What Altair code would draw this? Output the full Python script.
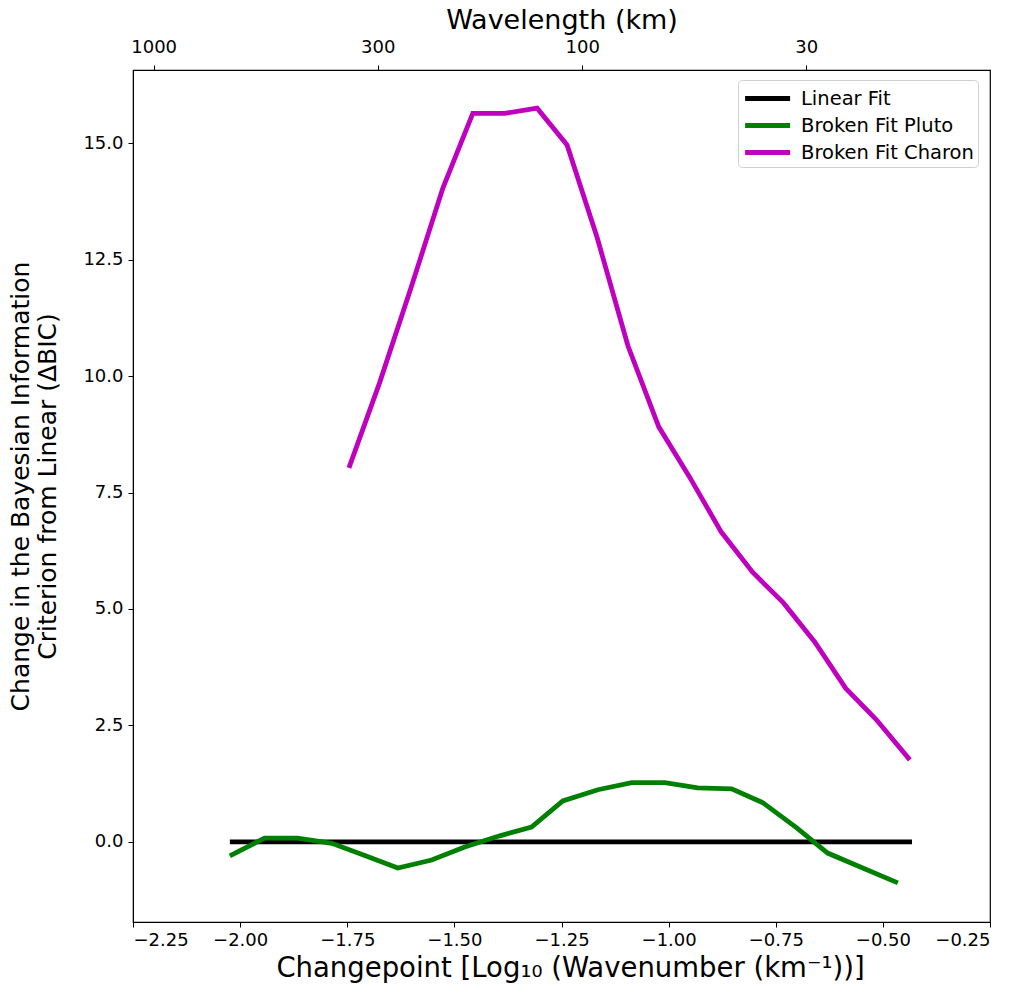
import math
import altair as alt
import pandas as pd

# Broken Fit Charon
charon_x = [-1.746, -1.674, -1.601, -1.527, -1.457, -1.382, -1.307, -1.237, -1.167,
            -1.095, -1.023, -0.951, -0.877, -0.804, -0.732, -0.659, -0.587, -0.515, -0.437]
charon_y = [8.03, 9.87, 11.9, 14.03, 15.64, 15.64, 15.75, 14.96, 12.98,
            10.65, 8.91, 7.83, 6.65, 5.79, 5.13, 4.29, 3.30, 2.62, 1.76]

# Broken Fit Pluto
pluto_x = [-2.024, -1.943, -1.866, -1.786, -1.709, -1.632, -1.553, -1.476, -1.394, -1.320,
           -1.247, -1.165, -1.086, -1.009, -0.932, -0.853, -0.780, -0.701, -0.629, -0.547, -0.465]
pluto_y = [-0.30, 0.08, 0.08, -0.03, -0.29, -0.56, -0.39, -0.11, 0.13, 0.32,
           0.88, 1.12, 1.27, 1.27, 1.16, 1.14, 0.84, 0.30, -0.24, -0.56, -0.88]

# Linear Fit
linear_x = [-2.024, -0.432]
linear_y = [0.0, 0.0]

wavelengths = [1000, 300, 100, 30]
series_names = ["Linear Fit", "Broken Fit Pluto", "Broken Fit Charon"]
series_colors = ["#000000", "#008000", "#bf00bf"]

rows = []
for n, xs, ys in [(series_names[0], linear_x, linear_y),
                  (series_names[1], pluto_x, pluto_y),
                  (series_names[2], charon_x, charon_y)]:
    for i, (a, b) in enumerate(zip(xs, ys)):
        rows.append({"series": n, "x": a, "y": b, "order": i})
df = pd.DataFrame(rows)

top_positions = [math.log10(2 * math.pi / w) for w in wavelengths]
top_df = pd.DataFrame({"x": top_positions, "y": [0.0] * len(top_positions)})

FONT = "DejaVu Sans"
xscale = alt.Scale(domain=[-2.25, -0.25], nice=False, zero=False)
yscale = alt.Scale(domain=[-1.72, 16.57], nice=False, zero=False)

lines = alt.Chart(df).mark_line(strokeWidth=4.8, strokeCap="butt").encode(
    x=alt.X("x:Q", scale=xscale,
            axis=alt.Axis(title="Changepoint [Log₁₀ (Wavenumber (km⁻¹))]",
                          values=[-2.25, -2.0, -1.75, -1.5, -1.25, -1.0, -0.75, -0.5, -0.25],
                          format=".2f", orient="bottom", grid=False,
                          labelFontSize=18, titleFontSize=27.5, titlePadding=5,
                          titleX=437, labelPadding=4)),
    y=alt.Y("y:Q", scale=yscale,
            axis=alt.Axis(title=["Change in the Bayesian Information", "Criterion from Linear (ΔBIC)"],
                          values=[0, 2.5, 5, 7.5, 10, 12.5, 15], format=".1f", grid=False,
                          labelFontSize=18, titleFontSize=25, titlePadding=22,
                          titleY=416, labelPadding=5)),
    color=alt.Color("series:N",
                    scale=alt.Scale(domain=series_names, range=series_colors),
                    legend=alt.Legend(title=None, orient="none", legendX=605, legendY=10,
                                      symbolType="M-0.95,0H2.8", symbolStrokeWidth=4.8,
                                      symbolSize=576, symbolFillColor="transparent",
                                      labelFontSize=19.5, rowPadding=2, labelOffset=30,
                                      labelLimit=400,
                                      strokeColor="#d0d0d0", fillColor="white", padding=4,
                                      cornerRadius=4)),
    order="order:Q",
)

top = alt.Chart(top_df).mark_point(opacity=0).encode(
    x=alt.X("x:Q", scale=xscale,
            axis=alt.Axis(title="Wavelength (km)", orient="top", values=top_positions,
                          labelExpr="format(2*PI/pow(10, datum.value), '.0f')",
                          grid=False, labelFontSize=18, titleFontSize=27,
                          titleY=-42, titleBaseline="alphabetic", labelPadding=9)),
    y=alt.Y("y:Q", scale=yscale),
)

chart = alt.layer(lines, top).resolve_axis(x="independent").properties(
    width=857, height=852,
    autosize=alt.AutoSizeParams(type="none"),
    padding={"left": 133, "top": 70, "right": 32, "bottom": 72},
).configure_view(stroke="black", strokeWidth=1.2).configure_axis(
    domainColor="black", tickColor="black", labelColor="black", titleColor="black",
    labelFont=FONT, titleFont=FONT, titleFontWeight="normal", tickSize=5,
).configure_legend(labelFont=FONT, labelColor="black")

chart.save("out.html", embed_options={"renderer": "svg", "actions": False})
